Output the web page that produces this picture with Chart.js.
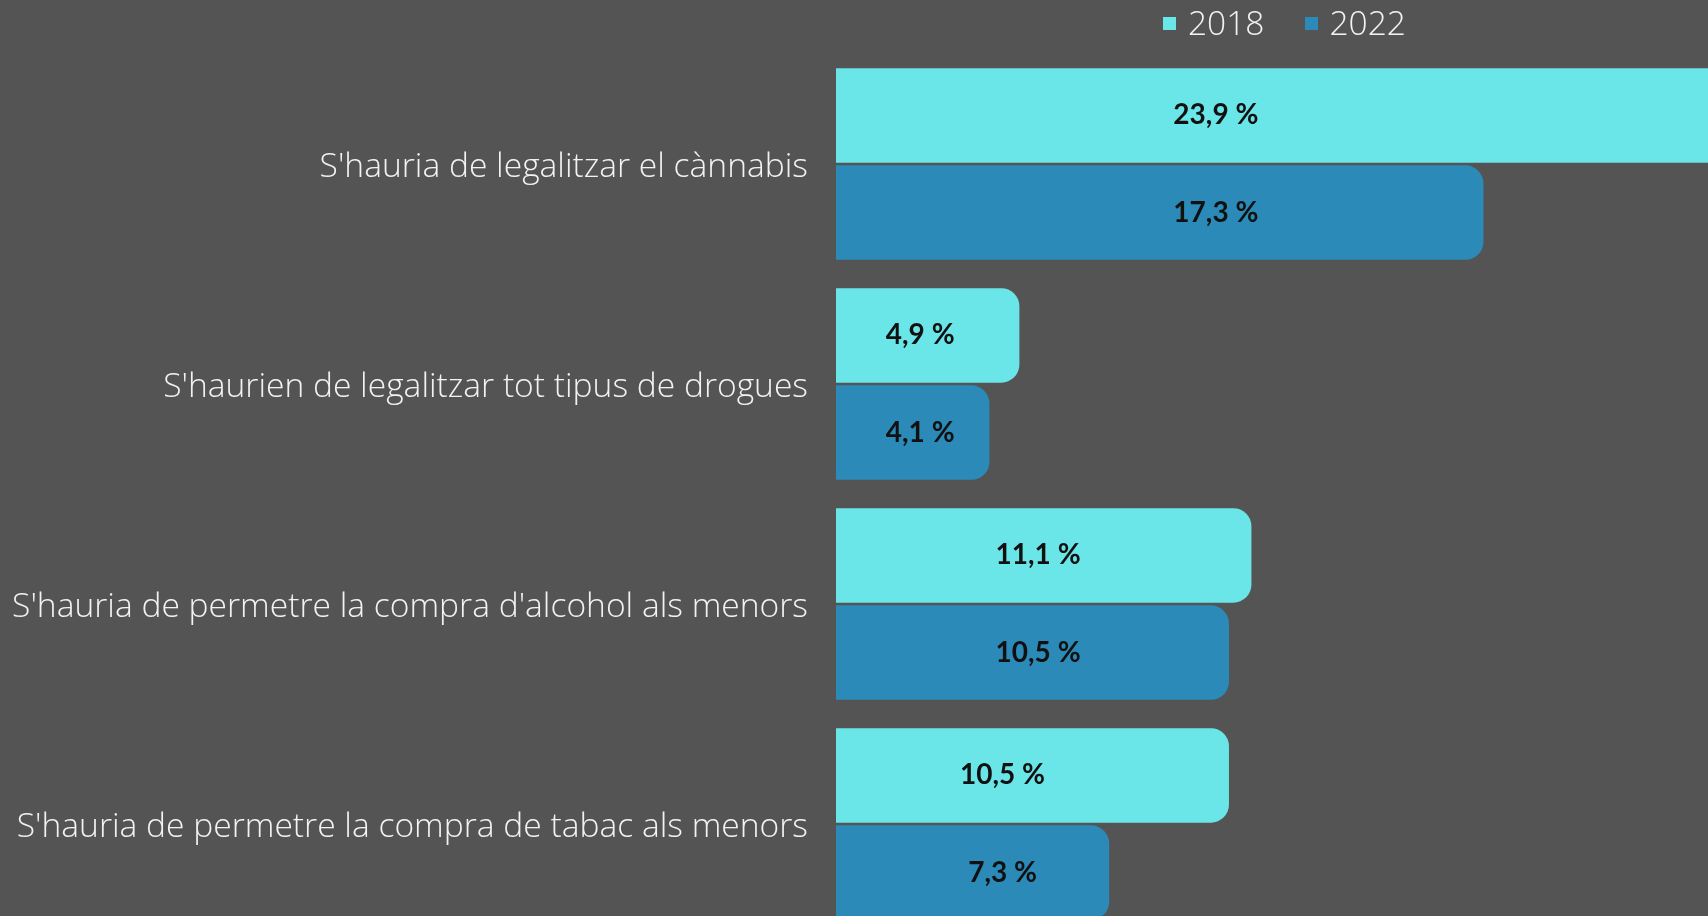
<!DOCTYPE html>
<html lang="ca">
<head>
<meta charset="UTF-8" />
<title>Opinions</title>
<script src="https://cdn.jsdelivr.net/npm/chart.js"></script>
<style>
  body { margin: 0; background: #545454; overflow: hidden; }
  #wrap { position: relative; width: 1708px; height: 934px; }
  #legend { position: absolute; left: 1163px; top: 5px; display: flex; align-items: center;
            font-family: "Open Sans", sans-serif; font-weight: 300; font-size: 33.5px; line-height: 35px; color: #f2f2f2; }
  #legend .item { display: flex; align-items: center; margin-right: 40px; }
  #legend .box { width: 13px; height: 13px; margin-right: 12px; margin-top: 1px; }
</style>
</head>
<body>
<div id="wrap">
  <canvas id="chart" width="1708" height="934"></canvas>
  <div id="legend"></div>
</div>
<script>
const categories = [
  "S'hauria de legalitzar el cànnabis",
  "S'haurien de legalitzar tot tipus de drogues",
  "S'hauria de permetre la compra d'alcohol als menors",
  "S'hauria de permetre la compra de tabac als menors"
];
const seriesNames = ["2018", "2022"];
const values2018 = [23.9, 4.9, 11.1, 10.5];
const values2022 = [17.3, 4.1, 10.5, 7.3];
const seriesColors = ["#6ae6e9", "#2b8ab8"];

const fmt = v => v.toFixed(1).replace(".", ",") + " %";

// value labels, centred per group between the two bars
const valueLabels = {
  id: "valueLabels",
  afterDatasetsDraw(chart) {
    const ctx = chart.ctx;
    const xs = chart.scales.x;
    ctx.save();
    ctx.font = "bold 28px Lato, sans-serif";
    ctx.fillStyle = "#111";
    ctx.textAlign = "center";
    ctx.textBaseline = "middle";
    chart.data.datasets.forEach((ds, di) => {
      chart.getDatasetMeta(di).data.forEach((bar, i) => {
        const a = Math.min(values2018[i], xs.max);
        const b = Math.min(values2022[i], xs.max);
        const x = xs.getPixelForValue((a + b) / 4);
        ctx.fillText(fmt(ds.data[i]), x, bar.y);
      });
    });
    ctx.restore();
  }
};

new Chart(document.getElementById("chart"), {
  type: "bar",
  data: {
    labels: categories,
    datasets: [
      { label: seriesNames[0], data: values2018, backgroundColor: seriesColors[0] },
      { label: seriesNames[1], data: values2022, backgroundColor: seriesColors[1] }
    ]
  },
  options: {
    indexAxis: "y",
    responsive: false,
    animation: false,
    layout: { padding: { top: 54, right: 0, bottom: 0, left: 0 } },
    datasets: {
      bar: {
        categoryPercentage: 0.8836,
        barPercentage: 0.972,
        borderRadius: 18,
        borderSkipped: "start"
      }
    },
    scales: {
      x: { display: false, min: 0, max: 23.3 },
      y: {
        grid: { display: false, drawTicks: false },
        border: { display: false },
        ticks: {
          color: "#f2f2f2",
          padding: 28,
          labelOffset: 3,
          font: { family: "'Open Sans', sans-serif", weight: 300, size: 33.6 }
        },
        afterFit: s => {
          s.width = 836;
          s.paddingTop = 0;
          s.paddingBottom = 0;
        }
      }
    },
    plugins: {
      legend: { display: false },
      tooltip: { enabled: false }
    }
  },
  plugins: [valueLabels]
});

// legend
const legendEl = document.getElementById("legend");
seriesNames.forEach((name, i) => {
  const item = document.createElement("div");
  item.className = "item";
  item.innerHTML = `<span class="box" style="background:${seriesColors[i]}"></span><span>${name}</span>`;
  legendEl.appendChild(item);
});
</script>
</body>
</html>
